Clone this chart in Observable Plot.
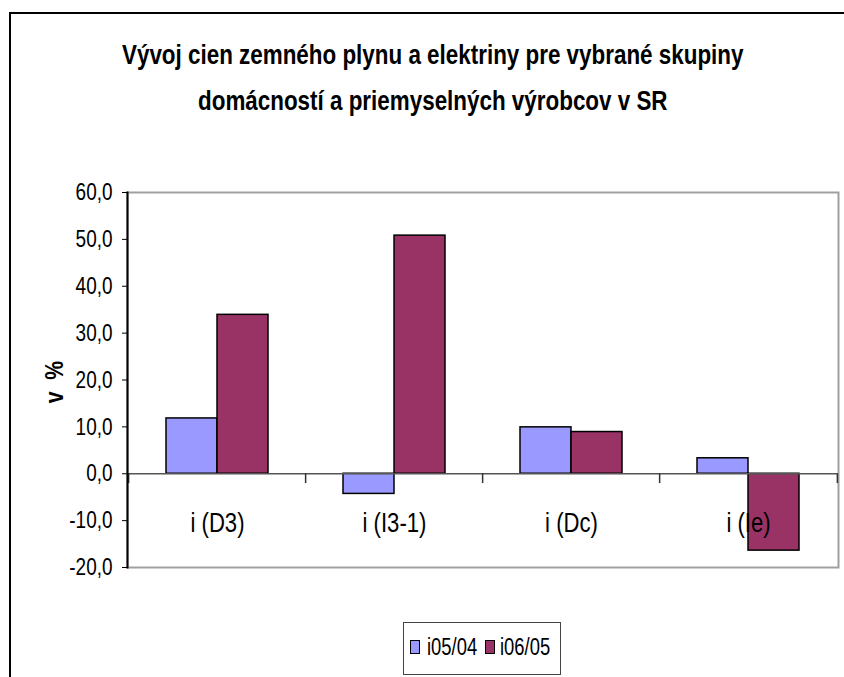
<!DOCTYPE html>
<html>
<head>
<meta charset="utf-8">
<script src="https://cdn.jsdelivr.net/npm/d3@7"></script>
<script src="https://cdn.jsdelivr.net/npm/@observablehq/plot@0.6"></script>
<style>
  html, body { margin: 0; padding: 0; background: #fff; width: 844px; height: 677px; overflow: hidden; }
  body { position: relative; font-family: "Liberation Sans", Arial, sans-serif; }
  #border { position: absolute; left: 9px; top: 12px; width: 900px; height: 700px; border-left: 2px solid #000; border-top: 2px solid #000; }
  .tline { position: absolute; left: 433px; white-space: nowrap; font-weight: bold; font-size: 27px; line-height: 30px; color: #000; transform: translate(-50%, 0) scaleX(0.83); transform-origin: 0 0; }
  #chart { position: absolute; left: 0; top: 0; }
  #ytitle { position: absolute; left: 54px; top: 382px; transform: translate(-50%, -50%) rotate(-90deg) scaleX(0.85); font-weight: bold; font-size: 25px; white-space: pre; }
  #legend { position: absolute; left: 403px; top: 622px; width: 158px; height: 53px; border: 1px solid #444; box-sizing: border-box; }
  .sw { position: absolute; width: 8px; height: 12px; border: 1px solid #000; top: 17px; }
  .lt { position: absolute; top: 11px; font-size: 23px; line-height: 26px; white-space: nowrap; transform: scaleX(0.8); transform-origin: 0 0; }
</style>
</head>
<body>
<div id="border"></div>
<div id="title"></div>
<div id="chart"></div>
<div id="ytitle">v  %</div>
<div id="legend"></div>
<script>
const titleLines = ["Vývoj cien zemného plynu a elektriny pre vybrané skupiny", "domácností a priemyselných výrobcov v SR"];
const categories = ["i (D3)", "i (I3-1)", "i (Dc)", "i (Ie)"];
const seriesNames = ["i05/04", "i06/05"];
const values0504 = [11.8, -4.3, 9.9, 3.3];
const values0605 = [33.9, 50.8, 8.9, -16.4];
const yTicks = [-20, -10, 0, 10, 20, 30, 40, 50, 60];
const colors = ["#9999FF", "#993366"];

// title
const tdiv = document.getElementById("title");
titleLines.forEach((t, i) => {
  const d = document.createElement("div");
  d.className = "tline";
  d.style.top = (40 + i * 46) + "px";
  d.textContent = t;
  tdiv.appendChild(d);
});
// fix translate of scaled title: compute after layout
tdiv.querySelectorAll(".tline").forEach(d => {
  const w = d.getBoundingClientRect().width; // includes scale
  d.style.transform = "scaleX(0.83)";
  d.style.left = (433 - w / 2) + "px";
});

const data0504 = categories.map((c, i) => ({cat: c, v: values0504[i]}));
const data0605 = categories.map((c, i) => ({cat: c, v: values0605[i]}));

const W = 844, H = 677;
const mL = 127, mR = 6, mT = 192, mB = 110;
const plotW = W - mL - mR;
const pIn = 0.426, pOut = 0.213;
const step = plotW / (categories.length - pIn + 2 * pOut);
const bw = step * (1 - pIn);
const fmt = d => d.toFixed(1).replace(".", ",");

const plot = Plot.plot({
  width: W, height: H,
  marginLeft: mL, marginRight: mR, marginTop: mT, marginBottom: mB,
  style: {fontFamily: '"Liberation Sans", Arial, sans-serif', fontSize: "24px", color: "#000", background: "transparent"},
  x: {domain: categories, paddingInner: pIn, paddingOuter: pOut, axis: null},
  y: {domain: [-20, 60], axis: null},
  marks: [
    Plot.frame({stroke: "#a0a0a0", strokeWidth: 2}),
    Plot.barY(data0504, {x: "cat", y: "v", fill: colors[0], stroke: "#000", strokeWidth: 1.5, insetRight: bw / 2}),
    Plot.barY(data0605, {x: "cat", y: "v", fill: colors[1], stroke: "#000", strokeWidth: 1.5, insetLeft: bw / 2}),
    Plot.ruleY([0], {stroke: "#555", strokeWidth: 1.5}),
    Plot.ruleX(categories, {x: d => d, dx: -step / 2, y1: 0, y2: -2.1, stroke: "#333", strokeWidth: 1.5}),
    Plot.ruleX([categories[categories.length - 1]], {x: d => d, dx: step / 2, y1: 0, y2: -2.1, stroke: "#333", strokeWidth: 1.5}),
    Plot.frame({anchor: "left", stroke: "#000", strokeWidth: 2}),
    Plot.axisY({ticks: yTicks, tickFormat: fmt, tickSize: 5, tickPadding: 10, fontSize: 24, stroke: "#000", label: null}),
    Plot.text(categories, {x: d => d, y: 0, dy: 49, text: d => d, fontSize: 28, fill: "#000"})
  ]
});
document.getElementById("chart").appendChild(plot);
// condense SVG text like Arial Narrow
plot.querySelectorAll("text").forEach(t => {
  const len = t.getComputedTextLength();
  if (len > 0) {
    t.setAttribute("textLength", (len * 0.79).toFixed(2));
    t.setAttribute("lengthAdjust", "spacingAndGlyphs");
  }
});

const leg = document.getElementById("legend");
const legX = [[6, 23], [81, 96]];
seriesNames.forEach((s, i) => {
  const sw = document.createElement("div");
  sw.className = "sw";
  sw.style.left = legX[i][0] + "px";
  sw.style.background = colors[i];
  leg.appendChild(sw);
  const lt = document.createElement("div");
  lt.className = "lt";
  lt.style.left = legX[i][1] + "px";
  lt.textContent = s;
  leg.appendChild(lt);
});
</script>
</body>
</html>
